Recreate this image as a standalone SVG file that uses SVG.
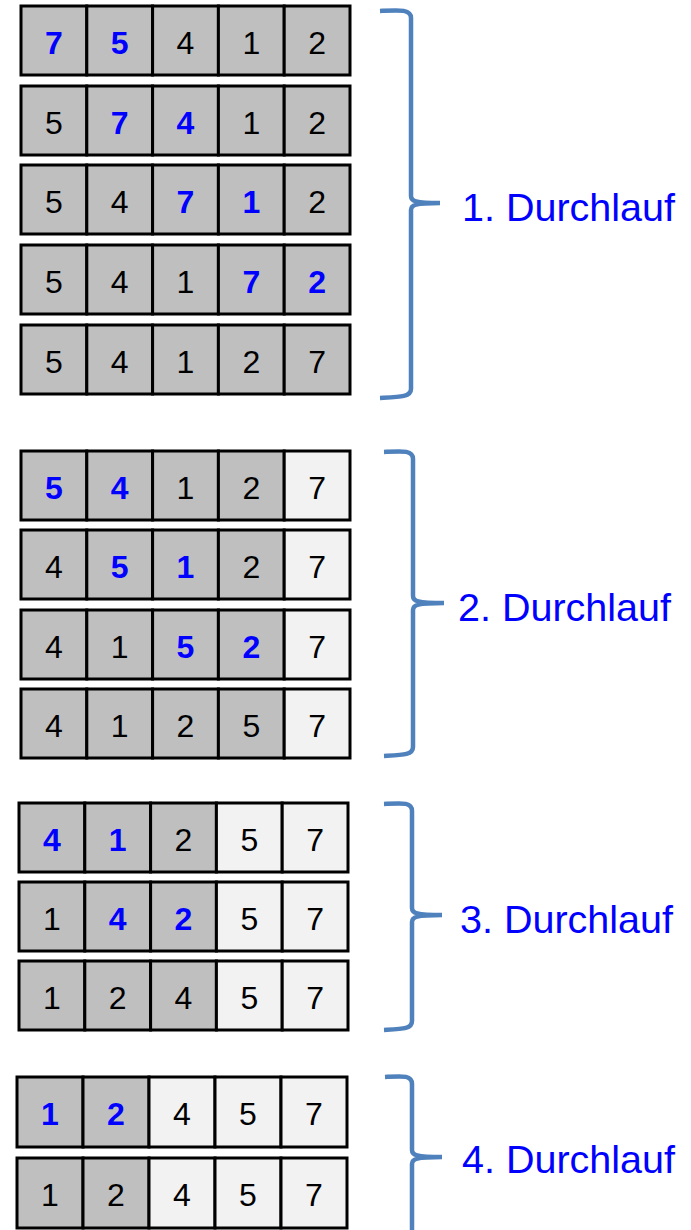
<svg xmlns="http://www.w3.org/2000/svg" width="691" height="1230" viewBox="0 0 691 1230">
<style>
.g{fill:#BFBFBF;stroke:#000;stroke-width:3}
.l{fill:#F2F2F2;stroke:#000;stroke-width:3}
text.n{font-family:"Liberation Sans",Arial,sans-serif;font-size:32px;text-anchor:middle;fill:#000}
text.b{font-family:"Liberation Sans",Arial,sans-serif;font-size:32px;text-anchor:middle;fill:#0000FF;font-weight:bold}
.br{fill:none;stroke:#4F81BD;stroke-width:4.5}
text.lab{font-family:"Liberation Sans",Arial,sans-serif;font-size:39.5px;fill:#0000FF}
</style>
<rect width="691" height="1230" fill="#fff"/>
<!-- Group 1 -->
<g id="p1r1">
<rect class="g" x="21" y="6" width="65.8" height="69"/><rect class="g" x="86.8" y="6" width="65.8" height="69"/><rect class="g" x="152.6" y="6" width="65.8" height="69"/><rect class="g" x="218.4" y="6" width="65.8" height="69"/><rect class="g" x="284.2" y="6" width="65.8" height="69"/>
<text class="b" x="53.9" y="54">7</text><text class="b" x="119.7" y="54">5</text><text class="n" x="185.5" y="54">4</text><text class="n" x="251.3" y="54">1</text><text class="n" x="317.1" y="54">2</text>
</g>
<g id="p1r2">
<rect class="g" x="21" y="86" width="65.8" height="69"/><rect class="g" x="86.8" y="86" width="65.8" height="69"/><rect class="g" x="152.6" y="86" width="65.8" height="69"/><rect class="g" x="218.4" y="86" width="65.8" height="69"/><rect class="g" x="284.2" y="86" width="65.8" height="69"/>
<text class="n" x="53.9" y="134">5</text><text class="b" x="119.7" y="134">7</text><text class="b" x="185.5" y="134">4</text><text class="n" x="251.3" y="134">1</text><text class="n" x="317.1" y="134">2</text>
</g>
<g id="p1r3">
<rect class="g" x="21" y="165" width="65.8" height="69"/><rect class="g" x="86.8" y="165" width="65.8" height="69"/><rect class="g" x="152.6" y="165" width="65.8" height="69"/><rect class="g" x="218.4" y="165" width="65.8" height="69"/><rect class="g" x="284.2" y="165" width="65.8" height="69"/>
<text class="n" x="53.9" y="213">5</text><text class="n" x="119.7" y="213">4</text><text class="b" x="185.5" y="213">7</text><text class="b" x="251.3" y="213">1</text><text class="n" x="317.1" y="213">2</text>
</g>
<g id="p1r4">
<rect class="g" x="21" y="245" width="65.8" height="69"/><rect class="g" x="86.8" y="245" width="65.8" height="69"/><rect class="g" x="152.6" y="245" width="65.8" height="69"/><rect class="g" x="218.4" y="245" width="65.8" height="69"/><rect class="g" x="284.2" y="245" width="65.8" height="69"/>
<text class="n" x="53.9" y="293">5</text><text class="n" x="119.7" y="293">4</text><text class="n" x="185.5" y="293">1</text><text class="b" x="251.3" y="293">7</text><text class="b" x="317.1" y="293">2</text>
</g>
<g id="p1r5">
<rect class="g" x="21" y="325" width="65.8" height="69"/><rect class="g" x="86.8" y="325" width="65.8" height="69"/><rect class="g" x="152.6" y="325" width="65.8" height="69"/><rect class="g" x="218.4" y="325" width="65.8" height="69"/><rect class="g" x="284.2" y="325" width="65.8" height="69"/>
<text class="n" x="53.9" y="373">5</text><text class="n" x="119.7" y="373">4</text><text class="n" x="185.5" y="373">1</text><text class="n" x="251.3" y="373">2</text><text class="n" x="317.1" y="373">7</text>
</g>
<!-- Group 2 -->
<g id="p2r1">
<rect class="g" x="21" y="451" width="65.8" height="69"/><rect class="g" x="86.8" y="451" width="65.8" height="69"/><rect class="g" x="152.6" y="451" width="65.8" height="69"/><rect class="g" x="218.4" y="451" width="65.8" height="69"/><rect class="l" x="284.2" y="451" width="65.8" height="69"/>
<text class="b" x="53.9" y="499">5</text><text class="b" x="119.7" y="499">4</text><text class="n" x="185.5" y="499">1</text><text class="n" x="251.3" y="499">2</text><text class="n" x="317.1" y="499">7</text>
</g>
<g id="p2r2">
<rect class="g" x="21" y="530" width="65.8" height="69"/><rect class="g" x="86.8" y="530" width="65.8" height="69"/><rect class="g" x="152.6" y="530" width="65.8" height="69"/><rect class="g" x="218.4" y="530" width="65.8" height="69"/><rect class="l" x="284.2" y="530" width="65.8" height="69"/>
<text class="n" x="53.9" y="578">4</text><text class="b" x="119.7" y="578">5</text><text class="b" x="185.5" y="578">1</text><text class="n" x="251.3" y="578">2</text><text class="n" x="317.1" y="578">7</text>
</g>
<g id="p2r3">
<rect class="g" x="21" y="610" width="65.8" height="69"/><rect class="g" x="86.8" y="610" width="65.8" height="69"/><rect class="g" x="152.6" y="610" width="65.8" height="69"/><rect class="g" x="218.4" y="610" width="65.8" height="69"/><rect class="l" x="284.2" y="610" width="65.8" height="69"/>
<text class="n" x="53.9" y="658">4</text><text class="n" x="119.7" y="658">1</text><text class="b" x="185.5" y="658">5</text><text class="b" x="251.3" y="658">2</text><text class="n" x="317.1" y="658">7</text>
</g>
<g id="p2r4">
<rect class="g" x="21" y="689" width="65.8" height="69"/><rect class="g" x="86.8" y="689" width="65.8" height="69"/><rect class="g" x="152.6" y="689" width="65.8" height="69"/><rect class="g" x="218.4" y="689" width="65.8" height="69"/><rect class="l" x="284.2" y="689" width="65.8" height="69"/>
<text class="n" x="53.9" y="737">4</text><text class="n" x="119.7" y="737">1</text><text class="n" x="185.5" y="737">2</text><text class="n" x="251.3" y="737">5</text><text class="n" x="317.1" y="737">7</text>
</g>
<!-- Group 3 -->
<g id="p3r1">
<rect class="g" x="19" y="803" width="65.8" height="69"/><rect class="g" x="84.8" y="803" width="65.8" height="69"/><rect class="g" x="150.6" y="803" width="65.8" height="69"/><rect class="l" x="216.4" y="803" width="65.8" height="69"/><rect class="l" x="282.2" y="803" width="65.8" height="69"/>
<text class="b" x="51.9" y="851">4</text><text class="b" x="117.7" y="851">1</text><text class="n" x="183.5" y="851">2</text><text class="n" x="249.3" y="851">5</text><text class="n" x="315.1" y="851">7</text>
</g>
<g id="p3r2">
<rect class="g" x="19" y="882" width="65.8" height="69"/><rect class="g" x="84.8" y="882" width="65.8" height="69"/><rect class="g" x="150.6" y="882" width="65.8" height="69"/><rect class="l" x="216.4" y="882" width="65.8" height="69"/><rect class="l" x="282.2" y="882" width="65.8" height="69"/>
<text class="n" x="51.9" y="930">1</text><text class="b" x="117.7" y="930">4</text><text class="b" x="183.5" y="930">2</text><text class="n" x="249.3" y="930">5</text><text class="n" x="315.1" y="930">7</text>
</g>
<g id="p3r3">
<rect class="g" x="19" y="961" width="65.8" height="69"/><rect class="g" x="84.8" y="961" width="65.8" height="69"/><rect class="g" x="150.6" y="961" width="65.8" height="69"/><rect class="l" x="216.4" y="961" width="65.8" height="69"/><rect class="l" x="282.2" y="961" width="65.8" height="69"/>
<text class="n" x="51.9" y="1009">1</text><text class="n" x="117.7" y="1009">2</text><text class="n" x="183.5" y="1009">4</text><text class="n" x="249.3" y="1009">5</text><text class="n" x="315.1" y="1009">7</text>
</g>
<!-- Group 4 -->
<g id="p4r1">
<rect class="g" x="17" y="1077" width="66" height="70"/><rect class="g" x="83" y="1077" width="66" height="70"/><rect class="l" x="149" y="1077" width="66" height="70"/><rect class="l" x="215" y="1077" width="66" height="70"/><rect class="l" x="281" y="1077" width="66" height="70"/>
<text class="b" x="50" y="1125">1</text><text class="b" x="116" y="1125">2</text><text class="n" x="182" y="1125">4</text><text class="n" x="248" y="1125">5</text><text class="n" x="314" y="1125">7</text>
</g>
<g id="p4r2">
<rect class="g" x="17" y="1158" width="66" height="70"/><rect class="g" x="83" y="1158" width="66" height="70"/><rect class="l" x="149" y="1158" width="66" height="70"/><rect class="l" x="215" y="1158" width="66" height="70"/><rect class="l" x="281" y="1158" width="66" height="70"/>
<text class="n" x="50" y="1206">1</text><text class="n" x="116" y="1206">2</text><text class="n" x="182" y="1206">4</text><text class="n" x="248" y="1206">5</text><text class="n" x="314" y="1206">7</text>
</g>
<!-- Braces -->
<g id="connectors">
<path class="br" d="M380,11 C400,10 411,9 411,18 V196 C411,201 415,203 440,203 C415,203 411,205 411,210 V389 C411,397 400,397 380,398"/>
<path class="br" d="M384,452 C403,451 413,450 413,459 V596 C413,601 417,603 444,603 C417,603 413,605 413,610 V747 C413,755 403,755 384,756"/>
<path class="br" d="M384,804 C403,803 412,802 412,811 V908 C412,913 416,915 442,915 C416,915 412,917 412,922 V1021 C412,1029 403,1029 384,1030"/>
<path class="br" d="M385,1077 C403,1076 412,1075 412,1084 V1150 C412,1155 416,1157 442,1157 C416,1157 412,1159 412,1164 V1232"/>
</g>
<g id="labels">
<text class="lab" x="462" y="221">1. Durchlauf</text>
<text class="lab" x="458" y="621">2. Durchlauf</text>
<text class="lab" x="460" y="933">3. Durchlauf</text>
<text class="lab" x="462" y="1173">4. Durchlauf</text>
</g>
</svg>
